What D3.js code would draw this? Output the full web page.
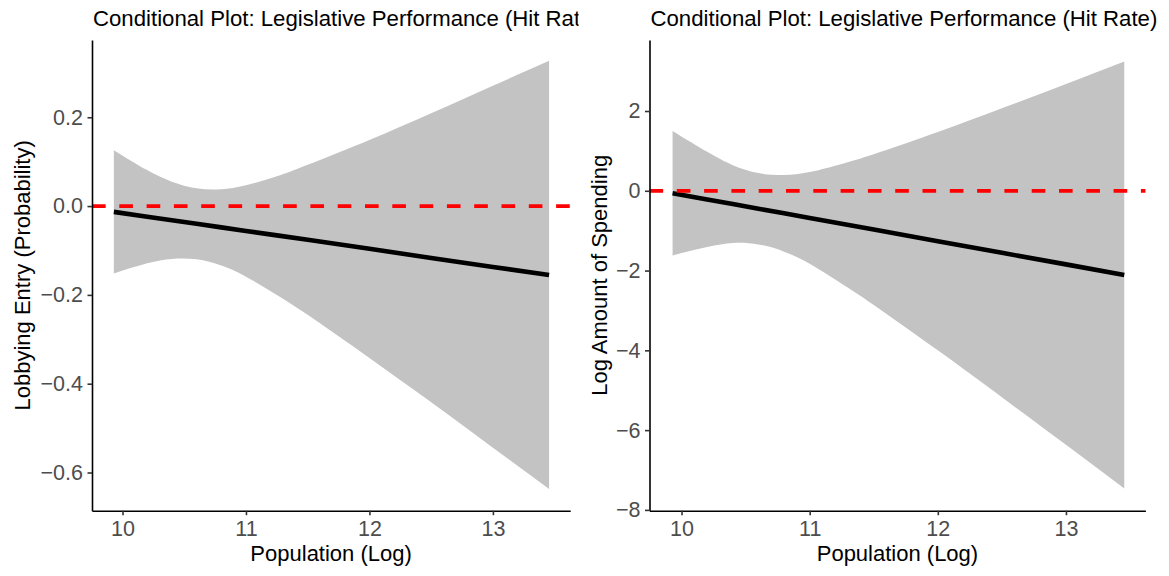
<!DOCTYPE html>
<html>
<head>
<meta charset="utf-8">
<script src="https://cdn.jsdelivr.net/npm/d3@7"></script>
<style>
  body { margin: 0; background: #fff; }
  svg { display: block; }
  text { font-family: "Liberation Sans", Arial, Helvetica, sans-serif; }
  .tick text { fill: #4d4d4d; font-size: 21.5px; }
  .tick line { stroke: #333333; stroke-width: 1.6; }
  .domain { stroke: #000; stroke-width: 1.6; }
  .band { fill: #c3c3c3; }
  .fit { fill: none; stroke: #000; stroke-width: 4.6; }
  .zero { stroke: #ff0000; stroke-width: 3.8; stroke-dasharray: 13.65 13.65; }
  .title { fill: #000; font-size: 22.2px; }
  .axis-title { fill: #000; font-size: 22px; }
</style>
</head>
<body>
<div id="wrapper"></div>
<script>
const popLog = [9.93, 10.2, 10.4, 10.6, 10.8, 11.0, 11.25, 11.5, 12.0, 12.5, 13.0, 13.455]

// left panel: lobbying entry (probability)
const entryFit   = [-0.013, -0.024, -0.032, -0.040, -0.048, -0.056, -0.066, -0.076, -0.096, -0.117, -0.137, -0.155]
const entryUpper = [0.126, 0.081, 0.055, 0.040, 0.038, 0.047, 0.067, 0.093, 0.149, 0.209, 0.271, 0.327]
const entryLower = [-0.152, -0.129, -0.119, -0.120, -0.134, -0.159, -0.200, -0.245, -0.342, -0.442, -0.544, -0.637]

// right panel: log amount of spending
const spendFit   = [-0.06, -0.217, -0.333, -0.450, -0.566, -0.682, -0.828, -0.973, -1.264, -1.555, -1.845, -2.11]
const spendUpper = [1.50, 0.976, 0.642, 0.445, 0.394, 0.468, 0.673, 0.915, 1.471, 2.066, 2.678, 3.241]
const spendLower = [-1.62, -1.410, -1.308, -1.345, -1.526, -1.832, -2.329, -2.861, -3.999, -5.176, -6.368, -7.461]

const xTicks = [10, 11, 12, 13]
const entryTicks = [-0.6, -0.4, -0.2, 0, 0.2]
const spendTicks = [-8, -6, -4, -2, 0, 2]

const plotTitle = "Conditional Plot: Legislative Performance (Hit Rate)"
const xTitle = "Population (Log)"

const wrapper = d3.select("#wrapper")
  .append("svg")
    .attr("width", 1169)
    .attr("height", 576)

function drawPanel(p) {
  const dimensions = {
    top: 40,
    bottom: 510.7,
    left: p.left,
    right: p.right,
  }

  const xScale = d3.scaleLinear()
    .domain(p.xDomain)
    .range([dimensions.left, dimensions.right])

  const yScale = d3.scaleLinear()
    .domain(p.yDomain)
    .range([dimensions.bottom, dimensions.top])

  const rows = popLog.map((x, i) => ({
    x: x,
    fit: p.fit[i],
    upper: p.upper[i],
    lower: p.lower[i],
  }))

  const panel = wrapper.append("g")

  // confidence band
  const bandGenerator = d3.area()
    .x(d => xScale(d.x))
    .y0(d => yScale(d.lower))
    .y1(d => yScale(d.upper))
    .curve(d3.curveNatural)

  panel.append("path")
      .attr("class", "band")
      .attr("d", bandGenerator(rows))

  // fitted effect
  const lineGenerator = d3.line()
    .x(d => xScale(d.x))
    .y(d => yScale(d.fit))

  panel.append("path")
      .attr("class", "fit")
      .attr("d", lineGenerator(rows))

  // zero reference
  panel.append("line")
      .attr("class", "zero")
      .attr("x1", dimensions.left)
      .attr("x2", dimensions.right)
      .attr("y1", yScale(0))
      .attr("y2", yScale(0))

  // axes
  const yAxis = d3.axisLeft(yScale)
    .tickValues(p.yTicks)
    .tickFormat(p.yFormat)
    .tickSize(4.5)
    .tickSizeOuter(0)
    .tickPadding(4.6)

  panel.append("g")
      .attr("transform", `translate(${dimensions.left},0)`)
      .call(yAxis)

  const xAxis = d3.axisBottom(xScale)
    .tickValues(xTicks)
    .tickFormat(d3.format("d"))
    .tickSize(4.5)
    .tickSizeOuter(0)
    .tickPadding(5.5)

  panel.append("g")
      .attr("transform", `translate(0,${dimensions.bottom})`)
      .call(xAxis)

  // titles
  const clipId = "clip-" + p.id
  wrapper.append("clipPath")
      .attr("id", clipId)
    .append("rect")
      .attr("x", p.clipLeft)
      .attr("y", 0)
      .attr("width", p.clipRight - p.clipLeft)
      .attr("height", 576)

  panel.append("text")
      .attr("class", "title")
      .attr("x", dimensions.left + 1)
      .attr("y", 26)
      .attr("clip-path", `url(#${clipId})`)
      .text(plotTitle)

  panel.append("text")
      .attr("class", "axis-title")
      .attr("x", (dimensions.left + dimensions.right) / 2)
      .attr("y", 560.7)
      .attr("text-anchor", "middle")
      .text(xTitle)

  panel.append("text")
      .attr("class", "axis-title")
      .attr("transform", `translate(${p.yTitleX},${(dimensions.top + dimensions.bottom) / 2}) rotate(-90)`)
      .attr("text-anchor", "middle")
      .text(p.yTitle)
}

drawPanel({
  id: "entry",
  left: 92,
  right: 570.2,
  xDomain: [9.753, 13.626],
  yDomain: [-0.686, 0.374],
  fit: entryFit,
  upper: entryUpper,
  lower: entryLower,
  yTicks: entryTicks,
  yFormat: d3.format(".1f"),
  yTitle: "Lobbying Entry (Probability)",
  yTitleX: 30,
  clipLeft: 0,
  clipRight: 578.5,
})

drawPanel({
  id: "spend",
  left: 649.5,
  right: 1145.4,
  xDomain: [9.75, 13.62],
  yDomain: [-8.02, 3.78],
  fit: spendFit,
  upper: spendUpper,
  lower: spendLower,
  yTicks: spendTicks,
  yFormat: d3.format("d"),
  yTitle: "Log Amount of Spending",
  yTitleX: 607,
  clipLeft: 584,
  clipRight: 1169,
})
</script>
</body>
</html>
